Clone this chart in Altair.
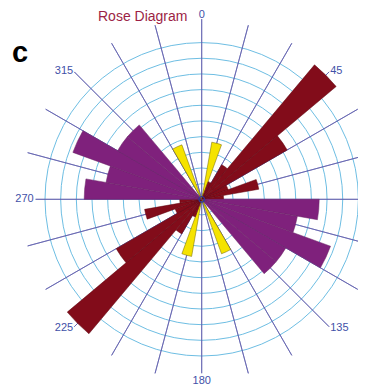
import altair as alt
import pandas as pd

# ---- data ----
bin_start = [10, 20, 30, 40, 50, 60, 70, 80, 90, 100, 110, 120, 130, 150]
bin_value = [3.7, 1.2, 2.55, 11.2, 6.3, 1.8, 3.7, 1.4, 7.5, 6.2, 8.75, 6.2, 6.2, 3.7]
bin_set = ["N", "NE", "NE", "NE", "NE", "NE", "NE", "NE",
           "WNW", "WNW", "WNW", "WNW", "WNW", "N"]
bin_width = 10

ring_values = [1, 2, 3, 4, 5, 6, 7, 8, 9, 10]
spoke_angles = list(range(0, 360, 15))
spoke_length = [11.1 if a == 180 else (10.6 if a == 270 else 11.5) for a in spoke_angles]

label_left = ["45", "135"]
label_left_angle = [45, 135]
label_right = ["225", "270", "315"]
label_right_angle = [225, 270, 315]
label_right_r = [11.6, 10.72, 11.6]
label_center = ["0", "180"]
label_center_angle = [0, 180]
label_center_r = [11.76, 11.58]
label_left_r = [11.6, 11.6]

set_names = ["N", "NE", "WNW"]
set_fill = ["#F5E300", "#820C1A", "#7F217C"]
set_stroke = ["#6E6300", "#5E0710", "#6A2466"]
set_opacity = [1.0, 1.0, 0.86]

# ---- tables ----
rows = []
for s, v, g in zip(bin_start, bin_value, bin_set):
    for off in (0, 180):
        rows.append({"t0": s + off, "t1": s + off + bin_width, "r": v, "set": g})
bars = pd.DataFrame(rows)
rings = pd.DataFrame({"t0": 0, "t1": 360, "r": ring_values})
spokes = pd.DataFrame({"a": spoke_angles, "r": spoke_length})
lab_l = pd.DataFrame({"t": label_left, "a": label_left_angle, "r": label_left_r})
lab_r = pd.DataFrame({"t": label_right, "a": label_right_angle, "r": label_right_r})
lab_c = pd.DataFrame({"t": label_center, "a": label_center_angle, "r": label_center_r})
center = pd.DataFrame({"t0": [0], "t1": [360], "r": [0.18]})
title_df = pd.DataFrame({"t": ["Rose Diagram"]})
panel_df = pd.DataFrame({"t": ["c"]})

CX, CY = 193.7, 191.3
th_scale = alt.Scale(domain=[0, 360], range=[0, 6.283185307179586])
r_scale = alt.Scale(type="linear", domain=[0, 10], range=[0, 156.7], zero=True)
cx = alt.value(CX)
cy = alt.value(CY)

ring_layer = alt.Chart(rings).mark_arc(filled=False, stroke="#6EBEE3", strokeWidth=1).encode(
    theta=alt.Theta("t0:Q", scale=th_scale), theta2="t1:Q",
    radius=alt.Radius("r:Q", scale=r_scale), x=cx, y=cy)

bar_layer = alt.Chart(bars).mark_arc(strokeWidth=0.5).encode(
    theta=alt.Theta("t0:Q", scale=th_scale), theta2="t1:Q",
    radius=alt.Radius("r:Q", scale=r_scale),
    fill=alt.Fill("set:N", scale=alt.Scale(domain=set_names, range=set_fill), legend=None),
    stroke=alt.Stroke("set:N", scale=alt.Scale(domain=set_names, range=set_stroke), legend=None),
    opacity=alt.Opacity("set:N", scale=alt.Scale(domain=set_names, range=set_opacity), legend=None),
    x=cx, y=cy)

spoke_layer = alt.Chart(spokes).mark_arc(filled=False, stroke="#5E5EAE", strokeWidth=0.9, opacity=0.85).encode(
    theta=alt.Theta("a:Q", scale=th_scale), theta2="a:Q",
    radius=alt.Radius("r:Q", scale=r_scale), x=cx, y=cy)

center_layer = alt.Chart(center).mark_arc(filled=False, stroke="#2A3A9A", strokeWidth=1.2).encode(
    theta=alt.Theta("t0:Q", scale=th_scale), theta2="t1:Q",
    radius=alt.Radius("r:Q", scale=r_scale), x=cx, y=cy)

def label_layer(df, align):
    return alt.Chart(df).mark_text(align=align, baseline="middle", font="Liberation Sans",
                                   fontSize=11, color="#3F51A8").encode(
        theta=alt.Theta("a:Q", scale=th_scale),
        radius=alt.Radius("r:Q", scale=r_scale),
        text="t:N", x=cx, y=cy)

title_layer = alt.Chart(title_df).mark_text(align="left", baseline="alphabetic", font="Liberation Sans",
                                            fontSize=14, color="#9C1F45").encode(
    text="t:N", x=alt.value(90), y=alt.value(13))

panel_layer = alt.Chart(panel_df).mark_text(align="left", baseline="alphabetic", font="Liberation Sans",
                                            fontSize=29, fontWeight="bold", color="#000000").encode(
    text="t:N", x=alt.value(4), y=alt.value(54))

chart = alt.layer(
    ring_layer, spoke_layer, bar_layer, center_layer,
    label_layer(lab_l, "left"), label_layer(lab_r, "right"), label_layer(lab_c, "center"),
    title_layer, panel_layer,
).properties(
    width=350, height=379, padding=0,
    autosize=alt.AutoSizeParams(type="none"),
).configure_view(strokeWidth=0)

chart.save("out.html", embed_options={"renderer": "svg", "actions": False})
